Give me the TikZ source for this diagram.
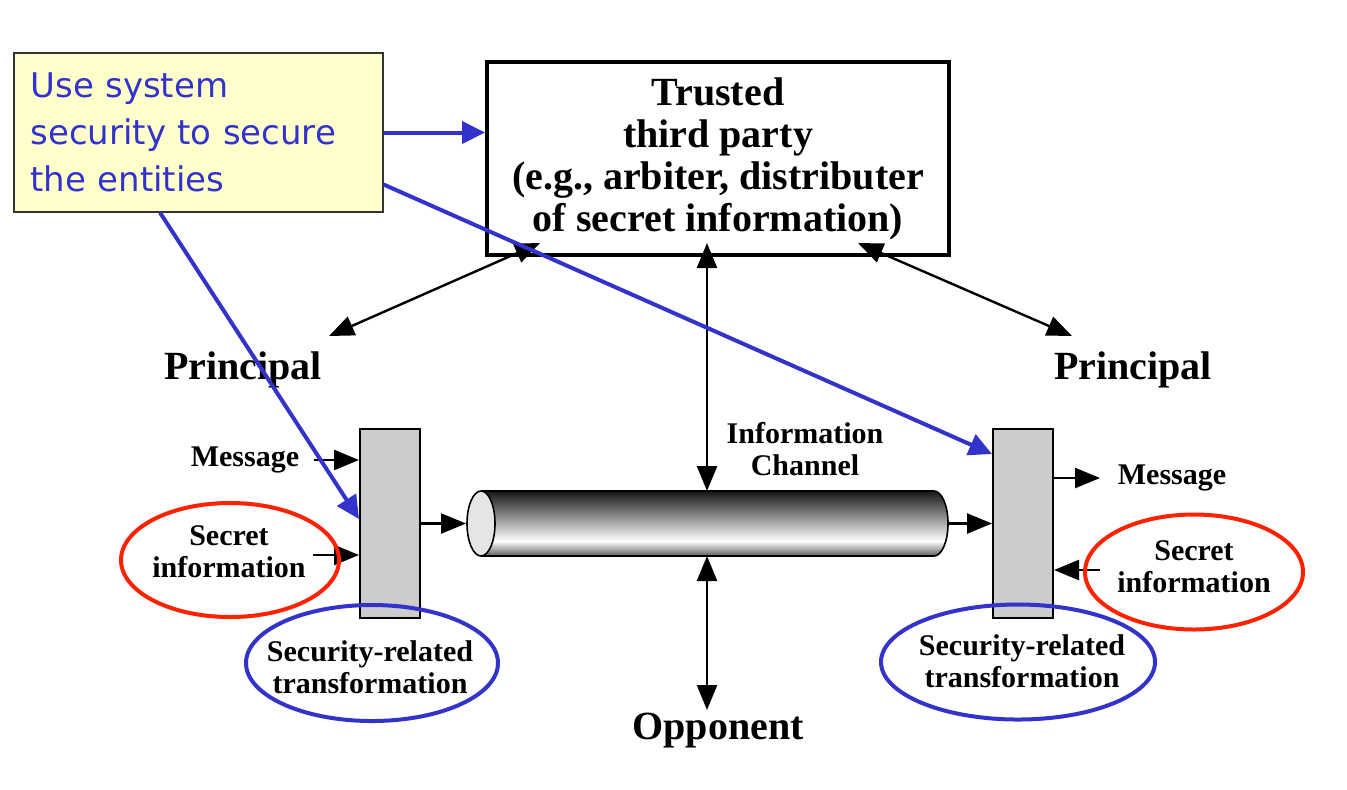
\documentclass[tikz,border=0pt]{standalone}
\usepackage{fontspec}
\setmainfont{Liberation Serif}
\newfontfamily\yelfont{DejaVu Sans}
\usetikzlibrary{arrows.meta,shapes.geometric}
\definecolor{hlblue}{RGB}{51,51,204}
\definecolor{hlred}{RGB}{255,34,0}
\definecolor{yelfill}{RGB}{255,255,204}
\definecolor{boxgray}{RGB}{204,204,204}
\begin{document}
\begin{tikzpicture}[x=0.5pt,y=-0.5pt,
 lbl/.style={font=\bfseries\fontsize{15}{16}\selectfont, align=center, inner sep=0pt},
 big/.style={font=\bfseries\fontsize{20}{21}\selectfont, align=center, inner sep=0pt},
 conn/.style={line width=1.2pt, -{Triangle[length=12.5pt,width=10pt]}},
 dconn/.style={line width=1.2pt, {Triangle[length=12.5pt,width=10pt]}-{Triangle[length=12.5pt,width=10pt]}},
 note/.style={line width=2pt, hlblue, -{Triangle[length=11.5pt,width=11pt]}},
 tbox/.style={draw, fill=boxgray, line width=1pt, minimum width=30pt, minimum height=94.5pt, inner sep=0pt},
 redring/.style={draw=hlred, line width=2pt, ellipse, inner sep=0pt},
 bluering/.style={draw=hlblue, line width=2pt, ellipse, inner sep=0pt},
]
\useasboundingbox (0,0) rectangle (1347,789);

% yellow note
\node[draw=black!80, line width=0.6pt, fill=yelfill, minimum width=184.5pt, minimum height=79.5pt,
      text width=168pt, align=left, inner xsep=8pt, font=\yelfont\fontsize{17}{23.5}\selectfont,
      text=hlblue] (yel) at (198.5,132.5) {Use system\\security to secure\\the entities};

% trusted third party
\node[draw, line width=2pt, minimum width=231pt, minimum height=96.5pt, big] (ttp) at (718,158.5)
  {Trusted\\third party\\(e.g., arbiter, distributer\\of secret information)};

% labels
\node[big] (prL) at (243,370) {Principal};
\node[big] (prR) at (1133,370) {Principal};
\node[big] (opp) at (718,730) {Opponent};
\node[lbl] (info) at (805,449) {Information\\Channel};

% transformation boxes
\node[tbox] (lbox) at (390,523.5) {};
\node[tbox] (rbox) at (1023,523.5) {};

\node[lbl] (msgL) at (245,460) {Message};
\node[lbl] (secL) at (229,552) {Secret\\information};
\node[lbl] (msgR) at (1172,478) {Message};
\node[lbl] (secR) at (1194,567) {Secret\\information};
\node[lbl] (strL) at (370,667.5) {Security-related\\transformation};
\node[lbl] (strR) at (1022,661.5) {Security-related\\transformation};

% tube (information channel)
\begin{scope}
  \clip (481,491) -- (934,491) arc[start angle=90, end angle=-90, x radius=7pt, y radius=16.25pt] -- (481,556) -- cycle;
  \shade[top color=black!95, bottom color=white] (460,489) rectangle (952,541);
  \shade[top color=white, bottom color=black!72] (460,541) rectangle (952,558);
\end{scope}
\draw[line width=0.8pt] (481,491) -- (934,491) arc[start angle=90, end angle=-90, x radius=7pt, y radius=16.25pt] -- (481,556);
\draw[line width=0.8pt, fill=black!10] (481,523.5) ellipse [x radius=7pt, y radius=16.25pt];

\coordinate (tubeL) at (466,523.5);
\coordinate (tubeR) at (948,523.5);
\coordinate (tubeT) at (707,491);
\coordinate (tubeB) at (707,556);
\coordinate (pl) at (329,336);
\coordinate (pr) at (1072,336);
\coordinate (oppT) at (707,710);
\coordinate (msgLs) at (314,460);
\coordinate (secLs) at (313,555);
\coordinate (msgRe) at (1100,478);
\coordinate (secRs) at (1100,570);

% black connectors
\draw[dconn] ([xshift=-89pt,yshift=7pt]ttp.south) -- (pl);
\draw[dconn] ([xshift=70pt,yshift=7pt]ttp.south) -- (pr);
\draw[dconn] ([xshift=-5.5pt,yshift=7pt]ttp.south) -- (tubeT);
\draw[dconn] (tubeB) -- (oppT);
\draw[conn] (msgLs) -- (msgLs -| lbox.west);
\draw[conn] (secLs) -- (secLs -| lbox.west);
\draw[conn] (lbox.east) -- (tubeL);
\draw[conn] (tubeR) -- (rbox.west);
\draw[conn] (msgRe -| rbox.east) -- (msgRe);
\draw[conn] (secRs) -- (secRs -| rbox.east);

% rings
\node[redring, minimum width=109pt, minimum height=57pt] (ringSL) at (230,560) {};
\node[bluering, minimum width=126pt, minimum height=58pt] (ringTL) at (372,663) {};
\node[redring, minimum width=109pt, minimum height=57.5pt] (ringSR) at (1194,572) {};
\node[bluering, minimum width=137pt, minimum height=57.5pt] (ringTR) at (1018,662) {};

% blue notes
\draw[note] (yel.east) -- (yel.east -| ttp.west);
\draw[note] ([yshift=-26pt]yel.east) -- ([yshift=-13pt]rbox.north west);
\draw[note] ([xshift=-19.25pt]yel.south) -- ([yshift=-45.5pt]lbox.north west);
\end{tikzpicture}
\end{document}
